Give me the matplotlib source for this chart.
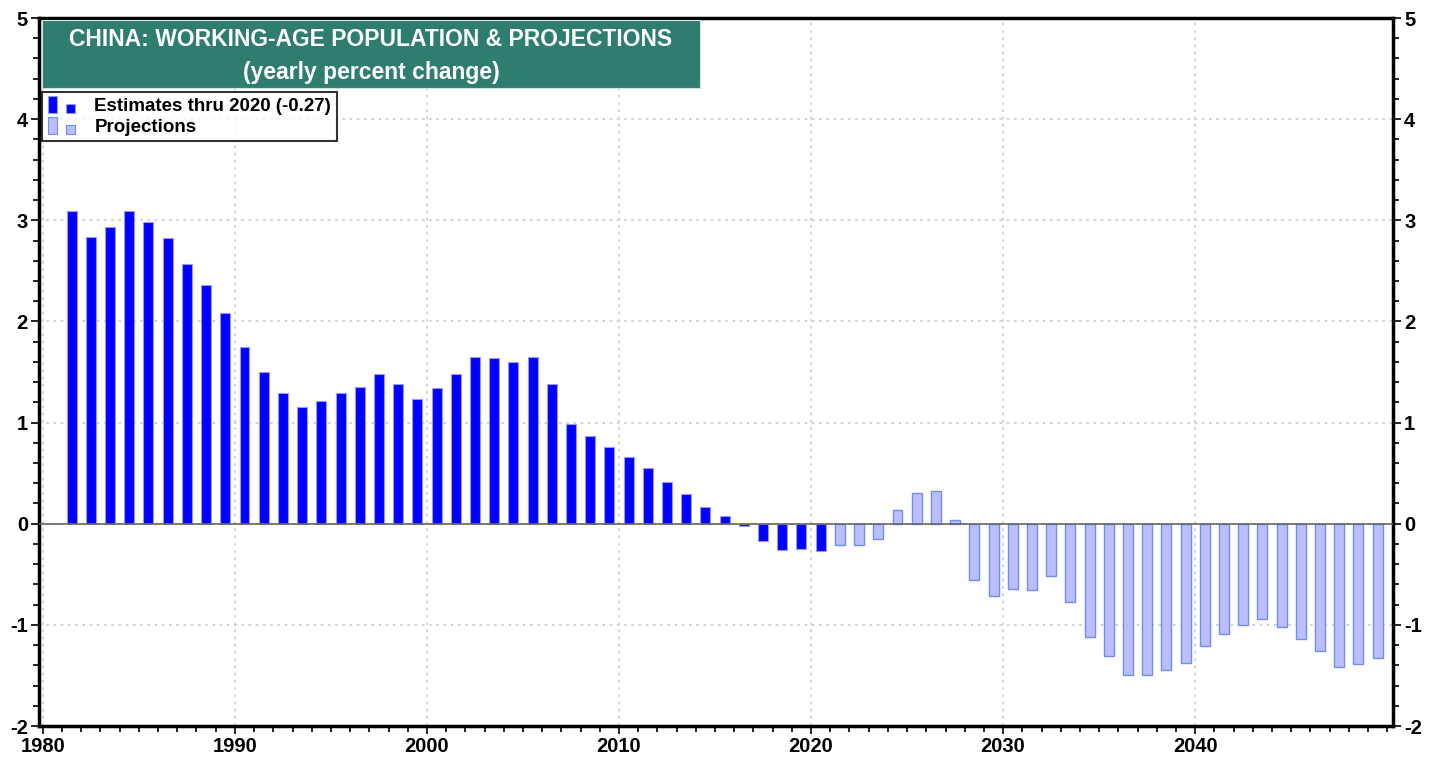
import matplotlib
matplotlib.use("Agg")
import matplotlib.pyplot as plt
import matplotlib.patches as mpatches
from matplotlib.legend_handler import HandlerBase
from matplotlib.ticker import MultipleLocator

plt.rcParams['font.family'] = ['Liberation Sans Narrow', 'Liberation Sans', 'DejaVu Sans']
plt.rcParams['font.weight'] = 'bold'
plt.rcParams['axes.unicode_minus'] = False

est_years = list(range(1981, 2021))
est_values = [3.09, 2.83, 2.93, 3.09, 2.98, 2.82, 2.57, 2.36, 2.08, 1.75,
              1.50, 1.29, 1.15, 1.21, 1.29, 1.35, 1.48, 1.38, 1.23, 1.34,
              1.48, 1.65, 1.64, 1.60, 1.65, 1.38, 0.99, 0.87, 0.76, 0.66,
              0.55, 0.41, 0.29, 0.17, 0.08, -0.02, -0.17, -0.26, -0.25, -0.27]
proj_years = list(range(2021, 2050))
proj_values = [-0.21, -0.21, -0.15, 0.14, 0.30, 0.32, 0.04, -0.56, -0.71, -0.65,
               -0.66, -0.52, -0.77, -1.12, -1.31, -1.50, -1.50, -1.45, -1.38, -1.21,
               -1.09, -1.00, -0.94, -1.02, -1.14, -1.26, -1.42, -1.39, -1.33]
x_ticks = [1980, 1990, 2000, 2010, 2020, 2030, 2040]
y_ticks = [-2, -1, 0, 1, 2, 3, 4, 5]
title_lines = ["CHINA: WORKING-AGE POPULATION & PROJECTIONS", "(yearly percent change)"]
legend_labels = ["Estimates thru 2020 (-0.27)", "Projections"]

EST_FACE = "#0000FF"
EST_EDGE = "#9999FF"
PROJ_FACE = "#BBBFFF"
PROJ_EDGE = "#6F8CFF"

W, H = 1442, 760
fig = plt.figure(figsize=(W / 100, H / 100), dpi=100)
ax = fig.add_axes([39 / W, 1 - 726 / H, (1393 - 39) / W, (726 - 18) / H])

ax.bar([y + 0.5 for y in est_years], est_values, width=0.52,
       color=EST_FACE, edgecolor=EST_EDGE, linewidth=0.8, zorder=3)
ax.bar([y + 0.5 for y in proj_years], proj_values, width=0.52,
       color=PROJ_FACE, edgecolor=PROJ_EDGE, linewidth=1.0, zorder=3)
ax.axhline(0, color="#666666", linewidth=1.2, zorder=4)

ax.set_xlim(1979.8, 2050.3)
ax.set_ylim(-2, 5)
ax.set_xticks(x_ticks)
ax.set_yticks(y_ticks)
ax.xaxis.set_minor_locator(MultipleLocator(1))
ax.yaxis.set_minor_locator(MultipleLocator(0.2))
ax.grid(True, which="major", linestyle=(0, (1.5, 2.5)), color="#D0D0D0", linewidth=1.3, zorder=0)
ax.tick_params(which="both", direction="out", labelsize=14.5, width=1.2,
               left=True, right=True, labelleft=True, labelright=True, pad=2)
ax.tick_params(which="major", length=6)
ax.tick_params(which="minor", length=4)
for lab in ax.get_xticklabels() + ax.get_yticklabels():
    lab.set_fontweight("bold")
for sp in ax.spines.values():
    sp.set_linewidth(2.5)
    sp.set_color("black")

# title box
fig.patches.append(mpatches.Rectangle((42 / W, 1 - 88 / H), (700 - 42) / W, (88 - 20) / H,
                                      transform=fig.transFigure, facecolor="#2E7D6E",
                                      edgecolor="#CFE3DD", linewidth=0.8, zorder=5))
fig.text(371 / W, 1 - 40 / H, title_lines[0], color="white", fontsize=16.5,
         fontweight="bold", ha="center", va="center", zorder=6)
fig.text(371 / W, 1 - 72 / H, title_lines[1], color="white", fontsize=16.5,
         fontweight="bold", ha="center", va="center", zorder=6)


class TwoBarHandler(HandlerBase):
    def __init__(self, face, edge):
        super().__init__()
        self.face = face
        self.edge = edge

    def create_artists(self, legend, orig_handle, xdescent, ydescent, width, height, fontsize, trans):
        r1 = mpatches.Rectangle((-xdescent, -ydescent - 1), width * 0.3, height + 2,
                                facecolor=self.face, edgecolor=self.edge, linewidth=0.8, transform=trans)
        r2 = mpatches.Rectangle((-xdescent + width * 0.6, -ydescent - 1), width * 0.32, height * 0.65,
                                facecolor=self.face, edgecolor=self.edge, linewidth=0.8, transform=trans)
        return [r1, r2]


h1 = mpatches.Patch(facecolor=EST_FACE)
h2 = mpatches.Patch(facecolor=PROJ_FACE)
leg = fig.legend([h1, h2], legend_labels,
                 handler_map={h1: TwoBarHandler(EST_FACE, EST_EDGE), h2: TwoBarHandler(PROJ_FACE, PROJ_EDGE)},
                 loc="upper left", bbox_to_anchor=(42 / W, 1 - 92 / H), bbox_transform=fig.transFigure,
                 prop={"size": 13.5, "weight": "bold"}, frameon=True, fancybox=False,
                 handlelength=1.6, handleheight=0.8, handletextpad=0.9, borderpad=0.3,
                 labelspacing=0.15, borderaxespad=0)
leg.get_frame().set_edgecolor("black")
leg.get_frame().set_linewidth(1.5)
leg.set_zorder(7)

fig.savefig("out.png", dpi=100)
